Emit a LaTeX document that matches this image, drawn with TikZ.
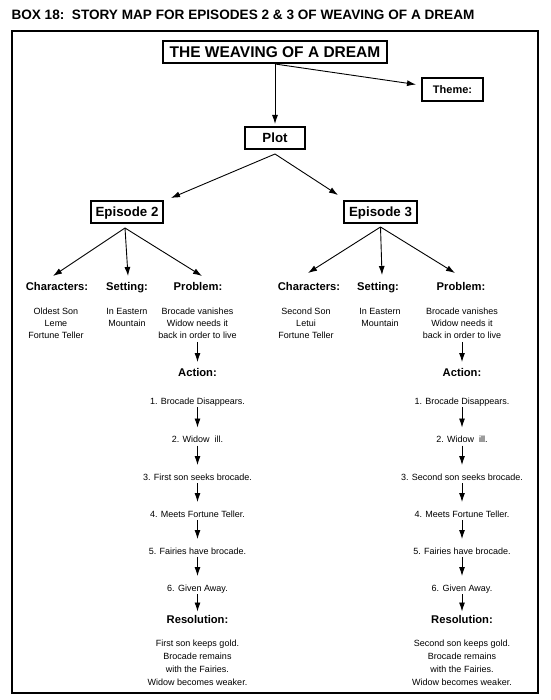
\documentclass[tikz,border=0pt]{standalone}
\usepackage{fontspec}
\setmainfont{Liberation Sans}
\usetikzlibrary{arrows.meta}
\begin{document}
\begin{tikzpicture}[x=1pt,y=-1pt,
  every node/.style={inner sep=0pt, outer sep=0pt},
  arr/.style={draw, line width=0.9pt, -{Latex[length=9pt,width=6pt]}},
  box/.style={draw, line width=1.1pt, minimum height=22pt},
  hd/.style={font=\fontsize{11.2}{13}\selectfont\bfseries, text height=8pt, text depth=2pt},
  txt/.style={font=\fontsize{9}{11.7}\selectfont, align=center, anchor=north},
  restxt/.style={font=\fontsize{9}{13}\selectfont, align=center, anchor=north},
  item/.style={font=\fontsize{9}{11}\selectfont, text height=7pt, text depth=2pt},
  stepar/.style={arr, shorten <=1pt, shorten >=8pt}
]
\useasboundingbox (0,0) rectangle (550,700);
\node[anchor=base west, font=\fontsize{13.6}{16}\selectfont\bfseries] (hdr) at (11.5,19.5) {BOX 18:\ \ STORY MAP FOR EPISODES 2 \& 3 OF WEAVING OF A DREAM};
\draw[line width=1.3pt] (12,31) rectangle (538,693);

\node[box, line width=1.4pt, minimum width=224pt, font=\fontsize{15.5}{18}\selectfont\bfseries, text height=11.1pt, text depth=0pt] (title) at (275,52) {THE WEAVING OF A DREAM};
\node[box, minimum width=61pt, minimum height=23pt, font=\fontsize{11}{13}\selectfont\bfseries, text height=7.9pt, text depth=0pt] (theme) at (452.5,89.5) {Theme:};
\node[box, minimum width=60pt, font=\fontsize{13.3}{16}\selectfont\bfseries, text height=9.5pt, text depth=0pt] (plot) at (275,138) {Plot};
\node[box, minimum width=72pt, font=\fontsize{13.3}{16}\selectfont\bfseries, text height=9.5pt, text depth=0pt] (ep2) at (127,212) {Episode 2};
\node[box, minimum width=73pt, font=\fontsize{13.3}{16}\selectfont\bfseries, text height=9.5pt, text depth=0pt] (ep3) at (380.5,212) {Episode 3};

\draw[arr, shorten >=3pt] (title.south) -- (plot.north);
\draw[arr] ([yshift=-1pt]title.south) -- ([xshift=-6pt,yshift=5pt]theme.west);
\draw[arr] ([yshift=-5pt]plot.south) -- ([xshift=8pt,yshift=3pt]ep2.north east);
\draw[arr] ([yshift=-5pt]plot.south) -- ([xshift=-6pt,yshift=6pt]ep3.north west);

% Episode 2
\node[hd] (ch2) at (57,287) {Characters:};
\node[hd] (se2) at (127,287) {Setting:};
\node[hd] (pr2) at (198,287) {Problem:};
\draw[arr] ([xshift=-2pt,yshift=-5pt]ep2.south) -- ([xshift=-4pt,yshift=6pt]ch2.north);
\draw[arr] ([xshift=-2pt,yshift=-5pt]ep2.south) -- ([xshift=1pt,yshift=6pt]se2.north);
\draw[arr] ([xshift=-2pt,yshift=-5pt]ep2.south) -- ([xshift=4pt,yshift=6pt]pr2.north);
\node[txt] (dch2) at (56,308.4) {Oldest Son\\Leme\\Fortune Teller};
\node[txt] (dse2) at (127,308.4) {In Eastern\\Mountain};
\node[txt] (dpr2) at (197.5,308.4) {Brocade vanishes\\Widow needs it\\back in order to live};

% Episode 3
\node[hd] (ch3) at (309,287) {Characters:};
\node[hd] (se3) at (378,287) {Setting:};
\node[hd] (pr3) at (461,287) {Problem:};
\draw[arr] ([yshift=-4pt]ep3.south) -- ([xshift=-1pt,yshift=9pt]ch3.north);
\draw[arr] ([yshift=-4pt]ep3.south) -- ([xshift=4pt,yshift=7pt]se3.north);
\draw[arr] ([yshift=-4pt]ep3.south) -- ([xshift=-6pt,yshift=9pt]pr3.north);
\node[txt] (dch3) at (306,308.4) {Second Son\\Letui\\Fortune Teller};
\node[txt] (dse3) at (380,308.4) {In Eastern\\Mountain};
\node[txt] (dpr3) at (462,308.4) {Brocade vanishes\\Widow needs it\\back in order to live};

% Action column, Episode 2
\node[hd] (ac2) at (197.5,373) {Action:};
\draw[arr, shorten >=6pt] ([yshift=-3.5pt]dpr2.south) -- (ac2.north);
\node[item] (a21) at (197.5,401.5) {1. Brocade Disappears.};
\node[item] (a22) at (197.5,440) {2. Widow\ \ ill.};
\node[item] (a23) at (197.5,477.5) {3. First son seeks brocade.};
\node[item] (a24) at (197.5,514.5) {4. Meets Fortune Teller.};
\node[item] (a25) at (197.5,551.5) {5. Fairies have brocade.};
\node[item] (a26) at (197.5,588.5) {6. Given Away.};
\node[hd] (rs2) at (197.5,620.5) {Resolution:};
\node[restxt] (drs2) at (197.5,640.4) {First son keeps gold.\\Brocade remains\\with the Fairies.\\Widow becomes weaker.};
\draw[stepar] (a21.south) -- (a22.north);
\draw[stepar] (a22.south) -- (a23.north);
\draw[stepar] (a23.south) -- (a24.north);
\draw[stepar] (a24.south) -- (a25.north);
\draw[stepar] (a25.south) -- (a26.north);
\draw[stepar, shorten >=4pt] (a26.south) -- (rs2.north);

% Action column, Episode 3
\node[hd] (ac3) at (462,373) {Action:};
\draw[arr, shorten >=6pt] ([yshift=-3.5pt]dpr3.south) -- (ac3.north);
\node[item] (a31) at (462,401.5) {1. Brocade Disappears.};
\node[item] (a32) at (462,440) {2. Widow\ \ ill.};
\node[item] (a33) at (462,477.5) {3. Second son seeks brocade.};
\node[item] (a34) at (462,514.5) {4. Meets Fortune Teller.};
\node[item] (a35) at (462,551.5) {5. Fairies have brocade.};
\node[item] (a36) at (462,588.5) {6. Given Away.};
\node[hd] (rs3) at (462,620.5) {Resolution:};
\node[restxt] (drs3) at (462,640.4) {Second son keeps gold.\\Brocade remains\\with the Fairies.\\Widow becomes weaker.};
\draw[stepar] (a31.south) -- (a32.north);
\draw[stepar] (a32.south) -- (a33.north);
\draw[stepar] (a33.south) -- (a34.north);
\draw[stepar] (a34.south) -- (a35.north);
\draw[stepar] (a35.south) -- (a36.north);
\draw[stepar, shorten >=4pt] (a36.south) -- (rs3.north);
\end{tikzpicture}
\end{document}
